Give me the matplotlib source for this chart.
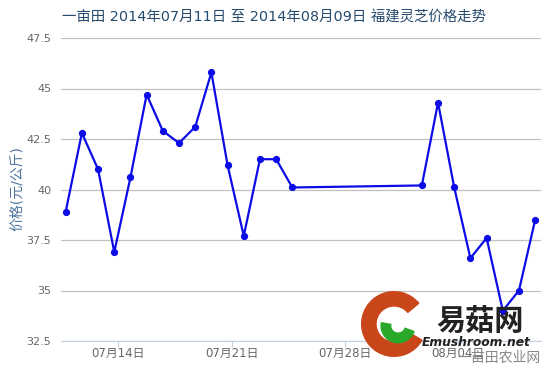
import numpy as np
import pandas as pd
import matplotlib
matplotlib.use("Agg")
import matplotlib.pyplot as plt
from matplotlib.patches import Wedge

plt.rcParams['font.family'] = ['DejaVu Sans', 'Noto Sans CJK SC']

# data (福建灵芝, 元/公斤)
dates = ['2014-07-11', '2014-07-12', '2014-07-13', '2014-07-14', '2014-07-15',
         '2014-07-16', '2014-07-17', '2014-07-18', '2014-07-19', '2014-07-20',
         '2014-07-21', '2014-07-22', '2014-07-23', '2014-07-24', '2014-07-25',
         '2014-08-02', '2014-08-03', '2014-08-04', '2014-08-05', '2014-08-06',
         '2014-08-07', '2014-08-08', '2014-08-09']
prices = [38.9, 42.8, 41.0, 36.9, 40.6, 44.7, 42.9, 42.3, 43.1, 45.8,
          41.2, 37.7, 41.5, 41.5, 40.1, 40.2, 44.3, 40.1, 36.6, 37.6,
          34.0, 35.0, 38.5]
tick_dates = ['2014-07-14', '2014-07-21', '2014-07-28', '2014-08-04']
tick_labels = ['07月14日', '07月21日', '07月28日', '08月04日']
y_ticks = [32.5, 35, 37.5, 40, 42.5, 45, 47.5]
y_tick_labels = ['32.5', '35', '37.5', '40', '42.5', '45', '47.5']

start = pd.Timestamp(dates[0])
x = np.array([(pd.Timestamp(d) - start).days for d in dates], dtype=float)
xt = np.array([(pd.Timestamp(d) - start).days for d in tick_dates], dtype=float) + 0.25

fig = plt.figure(figsize=(5.5, 3.67), dpi=100)
ax = fig.add_axes([61/550, 26/367, 480/550, 303/367])

ax.plot(x, prices, color='#0c0ce6', lw=1.6, marker='o', ms=4.2, zorder=3)

ax.set_xlim(-0.29, 29.36)
ax.set_ylim(32.5, 47.5)
ax.set_yticks(y_ticks)
ax.set_yticklabels(y_tick_labels)
ax.set_xticks(xt)
ax.set_xticklabels(tick_labels)
ax.grid(axis='y', color='#c0c0c0', lw=0.9)
ax.set_axisbelow(True)
for s in ['top', 'right', 'left']:
    ax.spines[s].set_visible(False)
ax.spines['bottom'].set_color('#c0d0e0')
ax.tick_params(axis='y', length=0, pad=7, labelsize=8, labelcolor='#666666')
ax.tick_params(axis='x', length=4, color='#c0d0e0', pad=0.5, labelsize=8.5,
               labelcolor='#666666')

fig.text(274/550, 1 - 17/367, '一亩田 2014年07月11日 至 2014年08月09日 福建灵芝价格走势',
         ha='center', va='center', fontsize=10.4, color='#274b6d')
fig.text(17/550, 1 - 189/367, '价格(元/公斤)', rotation=90, ha='center', va='center',
         fontsize=10, color='#4d759e')

# watermark
lg = fig.add_axes([360/550, 1 - 358/367, 68/550, 68/367])
lg.set_xlim(-1, 1)
lg.set_ylim(-1, 1)
lg.set_aspect('equal')
lg.axis('off')
lg.add_patch(Wedge((0, 0), 0.95, 40, 330, width=0.42, color='#c8461a'))
lg.add_patch(Wedge((0.12, -0.05), 0.5, 170, 340, width=0.28, color='#2aa82a'))
fig.text(480/550, 1 - 322/367, '易菇网', ha='center', va='center', fontsize=21,
         fontweight='bold', style='italic', color='#222222')
fig.text(476/550, 1 - 343/367, 'Emushroom.net', ha='center', va='center', fontsize=8.8,
         fontweight='bold', style='italic', color='#222222')
fig.text(541/550, 1 - 358/367, '一亩田农业网', ha='right', va='center', fontsize=10,
         color='#888888')

fig.savefig('out.png', dpi=100)
